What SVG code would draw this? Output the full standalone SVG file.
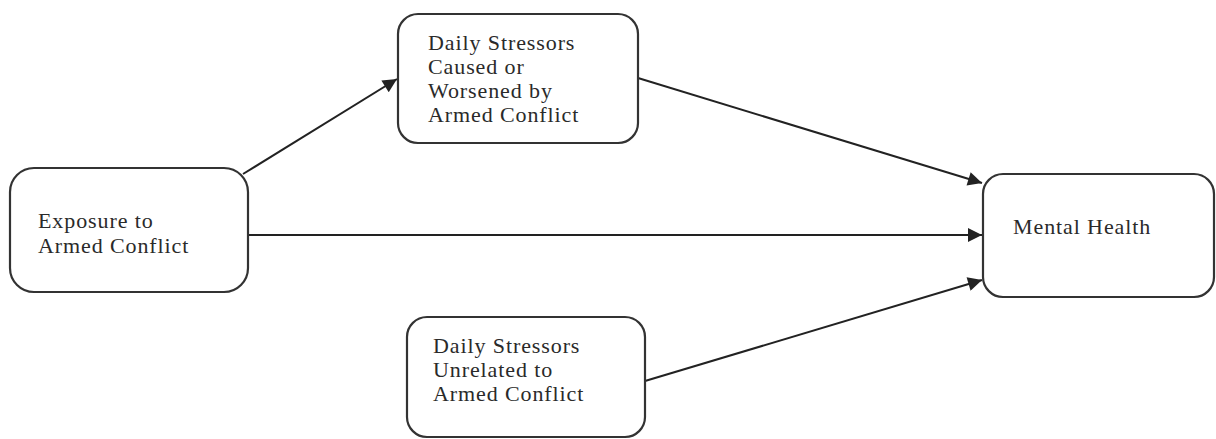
<svg xmlns="http://www.w3.org/2000/svg" width="1216" height="439" viewBox="0 0 1216 439">
<style>
.box{fill:#fff;stroke:#333;stroke-width:2.2}
.t{font-family:"Liberation Serif","Times New Roman",serif;font-size:22px;fill:#2a2a2a;letter-spacing:0.9px}
.c{stroke:#222;stroke-width:2;fill:none;marker-end:url(#ah)}
</style>
<defs>
<marker id="ah" viewBox="0 0 10 10" refX="10" refY="5" markerWidth="8.5" markerHeight="7" markerUnits="strokeWidth" orient="auto">
<path d="M0,0 L10,5 L0,10 z" fill="#222"/>
</marker>
</defs>
<rect width="1216" height="439" fill="#fff"/>
<g id="connectors">
<line class="c" x1="243" y1="174" x2="397" y2="79"/>
<line class="c" x1="638" y1="78" x2="982" y2="183"/>
<line class="c" x1="248" y1="235" x2="982" y2="235"/>
<line class="c" x1="645" y1="381" x2="982" y2="280"/>
</g>
<g id="exposure">
<rect class="box" x="10" y="168" width="238" height="124" rx="24"/>
<text class="t" x="38" y="228">Exposure to</text>
<text class="t" x="38" y="253">Armed Conflict</text>
</g>
<g id="caused">
<rect class="box" x="398" y="14" width="240" height="129" rx="20"/>
<text class="t" x="428" y="50">Daily Stressors</text>
<text class="t" x="428" y="74">Caused or</text>
<text class="t" x="428" y="98">Worsened by</text>
<text class="t" x="428" y="122">Armed Conflict</text>
</g>
<g id="mental">
<rect class="box" x="983" y="174" width="231" height="123" rx="20"/>
<text class="t" x="1013" y="234">Mental Health</text>
</g>
<g id="unrelated">
<rect class="box" x="407" y="317" width="238" height="120" rx="20"/>
<text class="t" x="433" y="353">Daily Stressors</text>
<text class="t" x="433" y="377">Unrelated to</text>
<text class="t" x="433" y="401">Armed Conflict</text>
</g>
</svg>
